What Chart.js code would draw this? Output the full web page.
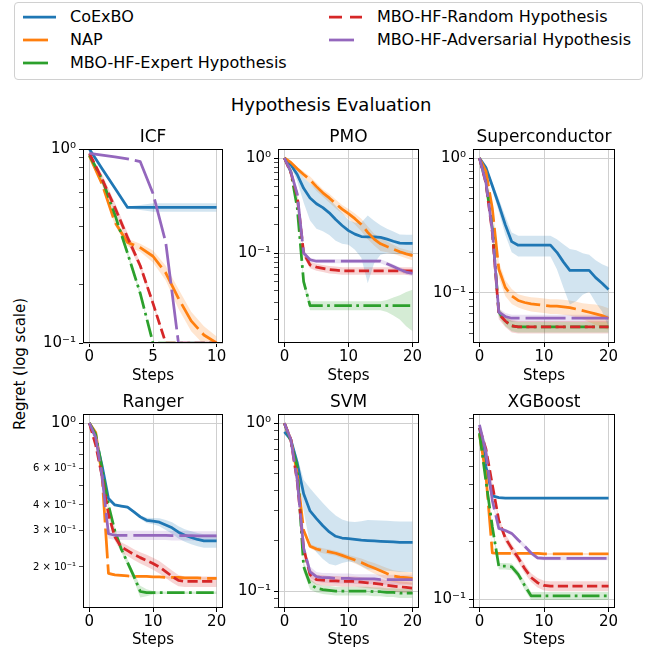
<!DOCTYPE html>
<html>
<head>
<meta charset="utf-8">
<title>Hypothesis Evaluation</title>
<script src="https://cdn.jsdelivr.net/npm/chart.js@4.4.1/dist/chart.umd.min.js"></script>
<style>
  html, body { margin: 0; padding: 0; background: #fff; }
  #fig { position: relative; width: 651px; height: 649px; overflow: hidden; font-family: 'DejaVu Sans', sans-serif; color: #000; }
  #fig canvas { position: absolute; }
  #legendBox { position: absolute; left: 14px; top: 2px; width: 629px; height: 78px; box-sizing: border-box; border: 1px solid #d0d0d0; border-radius: 4px; }
  #legendLines { position: absolute; left: 0; top: 0; }
  .legendText { position: absolute; font-size: 16px; line-height: 20px; white-space: nowrap; }
  #suptitle { position: absolute; left: 331px; top: 104px; transform: translate(-50%, -50%); font-size: 18px; white-space: nowrap; }
  #ylabel { position: absolute; left: 20px; top: 364px; transform: translate(-50%, -50%) rotate(-90deg); font-size: 15px; white-space: nowrap; }
</style>
</head>
<body>
<div id="fig">
  <div id="legendBox"></div>
  <svg id="legendLines" width="651" height="90"></svg>
  <div id="suptitle">Hypothesis Evaluation</div>
  <div id="ylabel">Regret (log scale)</div>
</div>
<script>
// steps on the x axis
const steps10 = [0, 1, 2, 3, 4, 5, 6, 7, 8, 9, 10];
const steps20 = [0, 1, 2, 3, 4, 5, 6, 7, 8, 9, 10, 11, 12, 13, 14, 15, 16, 17, 18, 19, 20];
const xTicks10 = [0, 5, 10];
const xTicks20 = [0, 10, 20];

// y tick positions and labels
const icfYTicks = [0.1, 0.2, 0.3, 0.4, 0.5, 0.6, 0.7, 0.8, 0.9, 1];
const pmoYTicks = [0.02, 0.03, 0.04, 0.05, 0.06, 0.07, 0.08, 0.09, 0.1, 0.2, 0.3, 0.4, 0.5, 0.6, 0.7, 0.8, 0.9, 1];
const scYTicks = [0.05, 0.06, 0.07, 0.08, 0.09, 0.1, 0.2, 0.3, 0.4, 0.5, 0.6, 0.7, 0.8, 0.9, 1];
const rgYTicks = [0.2, 0.3, 0.4, 0.5, 0.6, 0.7, 0.8, 0.9, 1];
const svmYTicks = [0.08, 0.09, 0.1, 0.2, 0.3, 0.4, 0.5, 0.6, 0.7, 0.8, 0.9, 1];
const xgbYTicks = [0.09, 0.1, 0.2, 0.3, 0.4, 0.5, 0.6, 0.7, 0.8, 0.9];
const decadeLabels = {1: '10⁰', 0.1: '10⁻¹'};
const rangerLabels = {1: '10⁰', 0.6: '6 × 10⁻¹', 0.4: '4 × 10⁻¹', 0.3: '3 × 10⁻¹', 0.2: '2 × 10⁻¹'};

const seriesNames = ['CoExBO', 'NAP', 'MBO-HF-Expert Hypothesis', 'MBO-HF-Random Hypothesis', 'MBO-HF-Adversarial Hypothesis'];

// ICF
const icfCoexbo = [1.0, 0.79, 0.63, 0.50, 0.50, 0.50, 0.50, 0.50, 0.50, 0.50, 0.50];
const icfCoexboSd = [0, 0, 0, 0.005, 0.015, 0.025, 0.025, 0.025, 0.025, 0.025, 0.025];
const icfNap = [0.92, 0.66, 0.42, 0.33, 0.31, 0.28, 0.23, 0.17, 0.13, 0.11, 0.10];
const icfNapSd = [0, 0.01, 0.015, 0.015, 0.015, 0.02, 0.02, 0.02, 0.015, 0.012, 0.008];
const icfExpert = [0.93, 0.70, 0.46, 0.29, 0.18, 0.10, 0.10, 0.10, 0.10, 0.10, 0.10];
const icfExpertSd = [0, 0.01, 0.01, 0.01, 0.005, 0, 0, 0, 0, 0, 0];
const icfRandom = [0.95, 0.70, 0.50, 0.35, 0.25, 0.16, 0.10, 0.10, 0.10, 0.10, 0.10];
const icfRandomSd = [0, 0.04, 0.03, 0.02, 0.01, 0.005, 0, 0, 0, 0, 0];
const icfAdversarial = [0.95, 0.93, 0.91, 0.89, 0.86, 0.59, 0.33, 0.10, 0.10, 0.10, 0.10];
const icfAdversarialSd = [0, 0, 0, 0, 0, 0, 0, 0, 0, 0, 0];

// PMO
const pmoCoexbo = [1.0, 0.85, 0.67, 0.48, 0.38, 0.33, 0.30, 0.265, 0.225, 0.195, 0.172, 0.158, 0.149, 0.148, 0.148, 0.146, 0.14, 0.133, 0.127, 0.126, 0.126];
const pmoCoexboSd = [0, 0.03, 0.1, 0.14, 0.16, 0.15, 0.13, 0.11, 0.09, 0.07, 0.05, 0.05, 0.06, 0.1, 0.07, 0.05, 0.04, 0.035, 0.03, 0.03, 0.03];
const pmoNap = [1.0, 0.9, 0.77, 0.67, 0.59, 0.5, 0.43, 0.38, 0.33, 0.29, 0.26, 0.23, 0.2, 0.165, 0.14, 0.125, 0.117, 0.11, 0.103, 0.098, 0.094];
const pmoNapSd = [0, 0.02, 0.04, 0.05, 0.05, 0.05, 0.04, 0.04, 0.035, 0.03, 0.03, 0.03, 0.03, 0.025, 0.02, 0.02, 0.015, 0.012, 0.01, 0.01, 0.01];
const pmoExpert = [1.0, 0.72, 0.3, 0.05, 0.028, 0.028, 0.028, 0.028, 0.028, 0.028, 0.028, 0.028, 0.028, 0.028, 0.028, 0.028, 0.028, 0.028, 0.028, 0.028, 0.028];
const pmoExpertSd = [0, 0.02, 0.02, 0.005, 0.003, 0.003, 0.003, 0.003, 0.003, 0.003, 0.003, 0.003, 0.003, 0.003, 0.003, 0.003, 0.004, 0.006, 0.008, 0.011, 0.013];
const pmoRandom = [1.0, 0.7, 0.4, 0.1, 0.075, 0.071, 0.069, 0.067, 0.066, 0.065, 0.065, 0.065, 0.065, 0.065, 0.065, 0.065, 0.065, 0.065, 0.065, 0.065, 0.065];
const pmoRandomSd = [0, 0.03, 0.03, 0.01, 0.006, 0.006, 0.006, 0.006, 0.006, 0.006, 0.006, 0.006, 0.006, 0.006, 0.006, 0.006, 0.006, 0.006, 0.006, 0.006, 0.006];
const pmoAdversarial = [1.0, 0.72, 0.42, 0.1, 0.085, 0.082, 0.082, 0.082, 0.082, 0.082, 0.082, 0.082, 0.082, 0.082, 0.082, 0.082, 0.077, 0.072, 0.067, 0.063, 0.061];
const pmoAdversarialSd = [0, 0.02, 0.02, 0.005, 0.004, 0.004, 0.004, 0.004, 0.004, 0.004, 0.004, 0.004, 0.004, 0.004, 0.004, 0.004, 0.004, 0.004, 0.004, 0.004, 0.004];

// Superconductor
const scCoexbo = [1.0, 0.85, 0.62, 0.45, 0.32, 0.24, 0.226, 0.226, 0.226, 0.226, 0.226, 0.226, 0.2, 0.17, 0.147, 0.147, 0.147, 0.147, 0.13, 0.118, 0.106];
const scCoexboSd = [0, 0.02, 0.04, 0.05, 0.05, 0.04, 0.04, 0.04, 0.04, 0.04, 0.04, 0.04, 0.05, 0.06, 0.065, 0.06, 0.05, 0.045, 0.045, 0.045, 0.05];
const scNap = [1.0, 0.8, 0.42, 0.15, 0.11, 0.095, 0.088, 0.085, 0.083, 0.082, 0.081, 0.08, 0.08, 0.079, 0.078, 0.076, 0.074, 0.072, 0.07, 0.068, 0.065];
const scNapSd = [0, 0.02, 0.03, 0.02, 0.015, 0.012, 0.01, 0.01, 0.01, 0.01, 0.01, 0.01, 0.01, 0.01, 0.01, 0.01, 0.01, 0.011, 0.012, 0.012, 0.012];
const scExpert = [1.0, 0.66, 0.3, 0.072, 0.062, 0.057, 0.056, 0.056, 0.056, 0.056, 0.056, 0.056, 0.056, 0.056, 0.056, 0.056, 0.056, 0.056, 0.056, 0.056, 0.056];
const scExpertSd = [0, 0.02, 0.02, 0.005, 0.005, 0.005, 0.005, 0.005, 0.005, 0.005, 0.005, 0.005, 0.005, 0.005, 0.005, 0.005, 0.005, 0.005, 0.005, 0.005, 0.005];
const scRandom = [1.0, 0.65, 0.28, 0.07, 0.062, 0.057, 0.056, 0.056, 0.056, 0.056, 0.056, 0.056, 0.056, 0.056, 0.056, 0.056, 0.056, 0.056, 0.056, 0.056, 0.056];
const scRandomSd = [0, 0.02, 0.02, 0.006, 0.006, 0.006, 0.006, 0.006, 0.006, 0.006, 0.006, 0.006, 0.006, 0.006, 0.006, 0.006, 0.006, 0.006, 0.006, 0.006, 0.006];
const scAdversarial = [1.0, 0.66, 0.29, 0.072, 0.067, 0.065, 0.065, 0.065, 0.065, 0.065, 0.065, 0.065, 0.065, 0.065, 0.065, 0.065, 0.065, 0.065, 0.065, 0.065, 0.065];
const scAdversarialSd = [0, 0.02, 0.02, 0.005, 0.004, 0.004, 0.004, 0.004, 0.004, 0.004, 0.004, 0.004, 0.004, 0.004, 0.004, 0.004, 0.004, 0.004, 0.004, 0.004, 0.004];

// Ranger
const rgCoexbo = [1.0, 0.85, 0.62, 0.43, 0.40, 0.395, 0.39, 0.37, 0.35, 0.337, 0.334, 0.33, 0.32, 0.31, 0.295, 0.285, 0.278, 0.272, 0.268, 0.268, 0.268];
const rgCoexboSd = [0, 0.01, 0.01, 0.01, 0.005, 0.005, 0.005, 0.005, 0.008, 0.01, 0.012, 0.015, 0.018, 0.02, 0.02, 0.02, 0.02, 0.02, 0.02, 0.02, 0.02];
const rgNap = [1.0, 0.9, 0.55, 0.186, 0.183, 0.182, 0.181, 0.18, 0.18, 0.18, 0.179, 0.179, 0.178, 0.178, 0.178, 0.177, 0.177, 0.177, 0.176, 0.176, 0.176];
const rgNapSd = [0, 0.01, 0.01, 0.003, 0.002, 0.002, 0.002, 0.002, 0.002, 0.002, 0.002, 0.002, 0.002, 0.002, 0.002, 0.002, 0.002, 0.002, 0.002, 0.002, 0.002];
const rgExpert = [1.0, 0.88, 0.6, 0.4, 0.3, 0.245, 0.21, 0.18, 0.152, 0.15, 0.15, 0.15, 0.15, 0.15, 0.15, 0.15, 0.15, 0.15, 0.15, 0.15, 0.15];
const rgExpertSd = [0, 0.01, 0.01, 0.01, 0.01, 0.008, 0.008, 0.008, 0.01, 0.006, 0.003, 0.002, 0.002, 0.002, 0.002, 0.002, 0.002, 0.002, 0.002, 0.002, 0.002];
const rgRandom = [1.0, 0.78, 0.55, 0.36, 0.28, 0.25, 0.24, 0.23, 0.222, 0.215, 0.208, 0.2, 0.19, 0.18, 0.172, 0.17, 0.17, 0.17, 0.17, 0.17, 0.17];
const rgRandomSd = [0, 0.01, 0.01, 0.01, 0.012, 0.014, 0.014, 0.014, 0.014, 0.014, 0.014, 0.014, 0.013, 0.012, 0.011, 0.01, 0.01, 0.01, 0.01, 0.01, 0.01];
const rgAdversarial = [1.0, 0.85, 0.55, 0.29, 0.285, 0.285, 0.285, 0.285, 0.285, 0.285, 0.285, 0.285, 0.285, 0.284, 0.284, 0.284, 0.284, 0.283, 0.283, 0.283, 0.283];
const rgAdversarialSd = [0, 0.01, 0.01, 0.015, 0.015, 0.015, 0.015, 0.015, 0.015, 0.015, 0.015, 0.015, 0.015, 0.015, 0.015, 0.015, 0.015, 0.015, 0.015, 0.015, 0.015];

// SVM
const svmCoexbo = [0.89, 0.8, 0.58, 0.38, 0.3, 0.27, 0.245, 0.225, 0.212, 0.207, 0.205, 0.203, 0.201, 0.2, 0.199, 0.198, 0.197, 0.196, 0.195, 0.195, 0.195];
const svmCoexboSd = [0.01, 0.02, 0.05, 0.08, 0.11, 0.1, 0.09, 0.08, 0.07, 0.06, 0.055, 0.055, 0.06, 0.065, 0.065, 0.065, 0.065, 0.065, 0.065, 0.065, 0.065];
const svmNap = [1.0, 0.8, 0.5, 0.23, 0.185, 0.178, 0.174, 0.171, 0.168, 0.163, 0.158, 0.153, 0.148, 0.142, 0.137, 0.132, 0.127, 0.123, 0.121, 0.12, 0.119];
const svmNapSd = [0, 0.01, 0.01, 0.008, 0.006, 0.006, 0.006, 0.006, 0.006, 0.006, 0.006, 0.007, 0.008, 0.009, 0.01, 0.01, 0.01, 0.01, 0.01, 0.01, 0.01];
const svmExpert = [1.0, 0.78, 0.55, 0.14, 0.11, 0.104, 0.102, 0.101, 0.1, 0.1, 0.1, 0.1, 0.1, 0.1, 0.099, 0.099, 0.098, 0.098, 0.097, 0.097, 0.097];
const svmExpertSd = [0, 0.01, 0.02, 0.01, 0.008, 0.006, 0.006, 0.006, 0.006, 0.006, 0.006, 0.006, 0.006, 0.006, 0.006, 0.006, 0.006, 0.006, 0.006, 0.006, 0.006];
const svmRandom = [1.0, 0.8, 0.45, 0.18, 0.125, 0.117, 0.116, 0.115, 0.115, 0.114, 0.114, 0.114, 0.113, 0.112, 0.111, 0.11, 0.108, 0.107, 0.106, 0.105, 0.104];
const svmRandomSd = [0, 0.01, 0.02, 0.012, 0.01, 0.008, 0.008, 0.008, 0.008, 0.008, 0.008, 0.008, 0.008, 0.008, 0.008, 0.008, 0.008, 0.008, 0.008, 0.008, 0.008];
const svmAdversarial = [1.0, 0.8, 0.46, 0.18, 0.13, 0.122, 0.12, 0.12, 0.119, 0.119, 0.119, 0.118, 0.118, 0.118, 0.118, 0.117, 0.117, 0.117, 0.117, 0.117, 0.117];
const svmAdversarialSd = [0, 0.01, 0.02, 0.012, 0.01, 0.008, 0.008, 0.008, 0.008, 0.008, 0.008, 0.008, 0.008, 0.008, 0.008, 0.008, 0.008, 0.008, 0.008, 0.008, 0.008];

// XGBoost
const xgbCoexbo = [0.8, 0.5, 0.35, 0.343, 0.341, 0.341, 0.341, 0.341, 0.341, 0.341, 0.341, 0.341, 0.341, 0.341, 0.341, 0.341, 0.341, 0.341, 0.341, 0.341, 0.341];
const xgbCoexboSd = [0, 0.01, 0.005, 0.003, 0.003, 0.003, 0.003, 0.003, 0.003, 0.003, 0.003, 0.003, 0.003, 0.003, 0.003, 0.003, 0.003, 0.003, 0.003, 0.003, 0.003];
const xgbNap = [0.74, 0.45, 0.175, 0.174, 0.174, 0.174, 0.174, 0.174, 0.174, 0.174, 0.173, 0.173, 0.173, 0.173, 0.173, 0.173, 0.173, 0.173, 0.173, 0.173, 0.173];
const xgbNapSd = [0, 0.01, 0.003, 0.002, 0.002, 0.002, 0.002, 0.002, 0.002, 0.002, 0.002, 0.002, 0.002, 0.002, 0.002, 0.002, 0.002, 0.002, 0.002, 0.002, 0.002];
const xgbExpert = [0.75, 0.42, 0.24, 0.149, 0.149, 0.148, 0.135, 0.118, 0.104, 0.104, 0.104, 0.104, 0.104, 0.104, 0.104, 0.104, 0.104, 0.104, 0.104, 0.104, 0.104];
const xgbExpertSd = [0, 0.01, 0.01, 0.006, 0.006, 0.006, 0.006, 0.006, 0.005, 0.005, 0.005, 0.005, 0.005, 0.005, 0.005, 0.005, 0.005, 0.005, 0.005, 0.005, 0.005];
const xgbRandom = [0.8, 0.62, 0.4, 0.26, 0.21, 0.185, 0.165, 0.145, 0.13, 0.122, 0.118, 0.117, 0.117, 0.117, 0.117, 0.117, 0.117, 0.117, 0.117, 0.117, 0.117];
const xgbRandomSd = [0, 0.01, 0.01, 0.01, 0.01, 0.01, 0.008, 0.008, 0.007, 0.007, 0.007, 0.007, 0.007, 0.007, 0.007, 0.007, 0.007, 0.007, 0.007, 0.007, 0.007];
const xgbAdversarial = [0.83, 0.6, 0.33, 0.236, 0.23, 0.222, 0.205, 0.19, 0.175, 0.165, 0.164, 0.164, 0.164, 0.164, 0.164, 0.164, 0.164, 0.164, 0.164, 0.164, 0.164];
const xgbAdversarialSd = [0, 0.01, 0.01, 0.005, 0.005, 0.005, 0.005, 0.005, 0.005, 0.004, 0.004, 0.004, 0.004, 0.004, 0.004, 0.004, 0.004, 0.004, 0.004, 0.004, 0.004];

const FONT = "'DejaVu Sans', sans-serif";
const styles = [
  {color: '#1f77b4', band: 'rgba(31,119,180,0.2)', dash: [], legendDash: ''},
  {color: '#ff7f0e', band: 'rgba(255,127,14,0.2)', dash: [30, 6], legendDash: ''},
  {color: '#2ca02c', band: 'rgba(44,160,44,0.2)', dash: [17.6, 4.4, 2.75, 4.4], legendDash: ''},
  {color: '#d62728', band: 'rgba(214,39,40,0.2)', dash: [10.2, 4.4], legendDash: '13 8'},
  {color: '#9467bd', band: 'rgba(148,103,189,0.2)', dash: [40, 6], legendDash: ''}
];

// legend
const fig = document.getElementById('fig');
const svg = document.getElementById('legendLines');
const legendSlots = [
  {x1: 23, x2: 56, textX: 70, y: 17},
  {x1: 23, x2: 48, textX: 70, y: 40},
  {x1: 23, x2: 48, textX: 70, y: 63},
  {x1: 329, x2: 362, textX: 377, y: 17},
  {x1: 329, x2: 354, textX: 377, y: 40}
];
seriesNames.forEach((name, i) => {
  const slot = legendSlots[i];
  const line = document.createElementNS('http://www.w3.org/2000/svg', 'line');
  line.setAttribute('x1', slot.x1);
  line.setAttribute('x2', slot.x2);
  line.setAttribute('y1', slot.y);
  line.setAttribute('y2', slot.y);
  line.setAttribute('stroke', styles[i].color);
  line.setAttribute('stroke-width', 2.75);
  if (styles[i].legendDash) line.setAttribute('stroke-dasharray', styles[i].legendDash);
  svg.appendChild(line);
  const span = document.createElement('div');
  span.className = 'legendText';
  span.style.left = slot.textX + 'px';
  span.style.top = (slot.y - 10) + 'px';
  span.textContent = name;
  fig.appendChild(span);
});

// black box around each plot area
const framePlugin = {
  id: 'frame',
  afterDatasetsDraw(chart) {
    const a = chart.chartArea, ctx = chart.ctx;
    ctx.save();
    ctx.strokeStyle = '#000';
    ctx.lineWidth = 1;
    ctx.strokeRect(Math.round(a.left) + 0.5, Math.round(a.top) + 0.5,
      Math.round(a.right - a.left) - 1, Math.round(a.bottom - a.top) - 1);
    ctx.restore();
  }
};

const isDecade = v => v === 1 || v === 0.1;

const panels = [
  {title: 'ICF', steps: steps10, xTicks: xTicks10, xMin: -0.5, xMax: 10.5, yMin: 0.1, yMax: 1, yTicks: icfYTicks, yLabels: decadeLabels,
   means: [icfCoexbo, icfNap, icfExpert, icfRandom, icfAdversarial], sds: [icfCoexboSd, icfNapSd, icfExpertSd, icfRandomSd, icfAdversarialSd],
   box: [83, 149, 223, 343], xH: 42},
  {title: 'PMO', steps: steps20, xTicks: xTicks20, xMin: -1, xMax: 21, yMin: 0.0113, yMax: 1.244, yTicks: pmoYTicks, yLabels: decadeLabels,
   means: [pmoCoexbo, pmoNap, pmoExpert, pmoRandom, pmoAdversarial], sds: [pmoCoexboSd, pmoNapSd, pmoExpertSd, pmoRandomSd, pmoAdversarialSd],
   box: [278, 149, 419, 343], xH: 42},
  {title: 'Superconductor', steps: steps20, xTicks: xTicks20, xMin: -1, xMax: 21, yMin: 0.0426, yMax: 1.166, yTicks: scYTicks, yLabels: decadeLabels,
   means: [scCoexbo, scNap, scExpert, scRandom, scAdversarial], sds: [scCoexboSd, scNapSd, scExpertSd, scRandomSd, scAdversarialSd],
   box: [473, 149, 615, 343], xH: 42},
  {title: 'Ranger', steps: steps20, xTicks: xTicks20, xMin: -1, xMax: 21, yMin: 0.1264, yMax: 1.106, yTicks: rgYTicks, yLabels: rangerLabels,
   means: [rgCoexbo, rgNap, rgExpert, rgRandom, rgAdversarial], sds: [rgCoexboSd, rgNapSd, rgExpertSd, rgRandomSd, rgAdversarialSd],
   box: [83, 414, 223, 608], xH: 41},
  {title: 'SVM', steps: steps20, xTicks: xTicks20, xMin: -1, xMax: 21, yMin: 0.0792, yMax: 1.136, yTicks: svmYTicks, yLabels: decadeLabels,
   means: [svmCoexbo, svmNap, svmExpert, svmRandom, svmAdversarial], sds: [svmCoexboSd, svmNapSd, svmExpertSd, svmRandomSd, svmAdversarialSd],
   box: [278, 414, 419, 608], xH: 41},
  {title: 'XGBoost', steps: steps20, xTicks: xTicks20, xMin: -1, xMax: 21, yMin: 0.0897, yMax: 0.9465, yTicks: xgbYTicks, yLabels: decadeLabels,
   means: [xgbCoexbo, xgbNap, xgbExpert, xgbRandom, xgbAdversarial], sds: [xgbCoexboSd, xgbNapSd, xgbExpertSd, xgbRandomSd, xgbAdversarialSd],
   box: [473, 414, 615, 608], xH: 41}
];

panels.forEach(p => {
  const [L, T, R, B] = p.box;
  const yW = 70, padR = 14, titleH = 22;
  const canvas = document.createElement('canvas');
  canvas.width = R - L + yW + padR;
  canvas.height = titleH + (B - T) + p.xH;
  canvas.style.left = (L - yW) + 'px';
  canvas.style.top = (T - titleH) + 'px';
  fig.appendChild(canvas);

  const datasets = [];
  seriesNames.forEach((name, i) => {
    const mean = p.means[i], sd = p.sds[i], st = styles[i];
    datasets.push({data: mean.map((m, k) => m - sd[k]), borderColor: 'transparent', backgroundColor: 'transparent',
      pointRadius: 0, fill: false, order: 50, clip: 0});
    datasets.push({data: mean.map((m, k) => m + sd[k]), borderColor: 'transparent', backgroundColor: st.band,
      pointRadius: 0, fill: '-1', order: 50, clip: 0});
    datasets.push({label: name, data: mean, borderColor: st.color, borderWidth: 2.75, borderDash: st.dash,
      borderCapStyle: 'butt', borderJoinStyle: 'round', pointRadius: 0, fill: false, order: 10 - i, clip: 0});
  });

  new Chart(canvas, {
    type: 'line',
    data: {labels: p.steps, datasets: datasets},
    plugins: [framePlugin],
    options: {
      responsive: false,
      animation: false,
      devicePixelRatio: 1,
      events: [],
      layout: {padding: {left: 0, right: padR, top: 0, bottom: 0}},
      plugins: {
        legend: {display: false},
        tooltip: {enabled: false},
        title: {display: true, text: p.title, fullSize: false, color: '#000',
          font: {family: FONT, size: 17, weight: 'normal'}, padding: {top: 0, bottom: 1.6}}
      },
      scales: {
        x: {
          type: 'linear', min: p.xMin, max: p.xMax,
          afterBuildTicks: sc => { sc.ticks = p.xTicks.map(v => ({value: v})); },
          afterFit: sc => { sc.height = p.xH; },
          grid: {color: '#cfcfcf', lineWidth: 1, tickColor: '#000', tickLength: 4},
          border: {display: false},
          ticks: {autoSkip: false, maxRotation: 0, color: '#000', padding: 1, font: {family: FONT, size: 15}},
          title: {display: true, text: 'Steps', color: '#000', padding: 0, font: {family: FONT, size: 15}}
        },
        y: {
          type: 'logarithmic', min: p.yMin, max: p.yMax,
          afterBuildTicks: sc => { sc.ticks = p.yTicks.map(v => ({value: v})); },
          afterFit: sc => { sc.width = yW; },
          grid: {
            color: c => (c.tick && isDecade(c.tick.value)) ? '#cfcfcf' : 'rgba(0,0,0,0)',
            tickColor: '#000',
            tickWidth: c => (c.tick && isDecade(c.tick.value)) ? 1 : 0.7,
            tickLength: 4
          },
          border: {display: false},
          ticks: {
            autoSkip: false, color: '#000', padding: 3,
            callback: v => p.yLabels[v] || '',
            font: c => ({family: FONT, size: (c.tick && isDecade(c.tick.value)) ? 15 : 10})
          }
        }
      }
    }
  });
});
</script>
</body>
</html>
